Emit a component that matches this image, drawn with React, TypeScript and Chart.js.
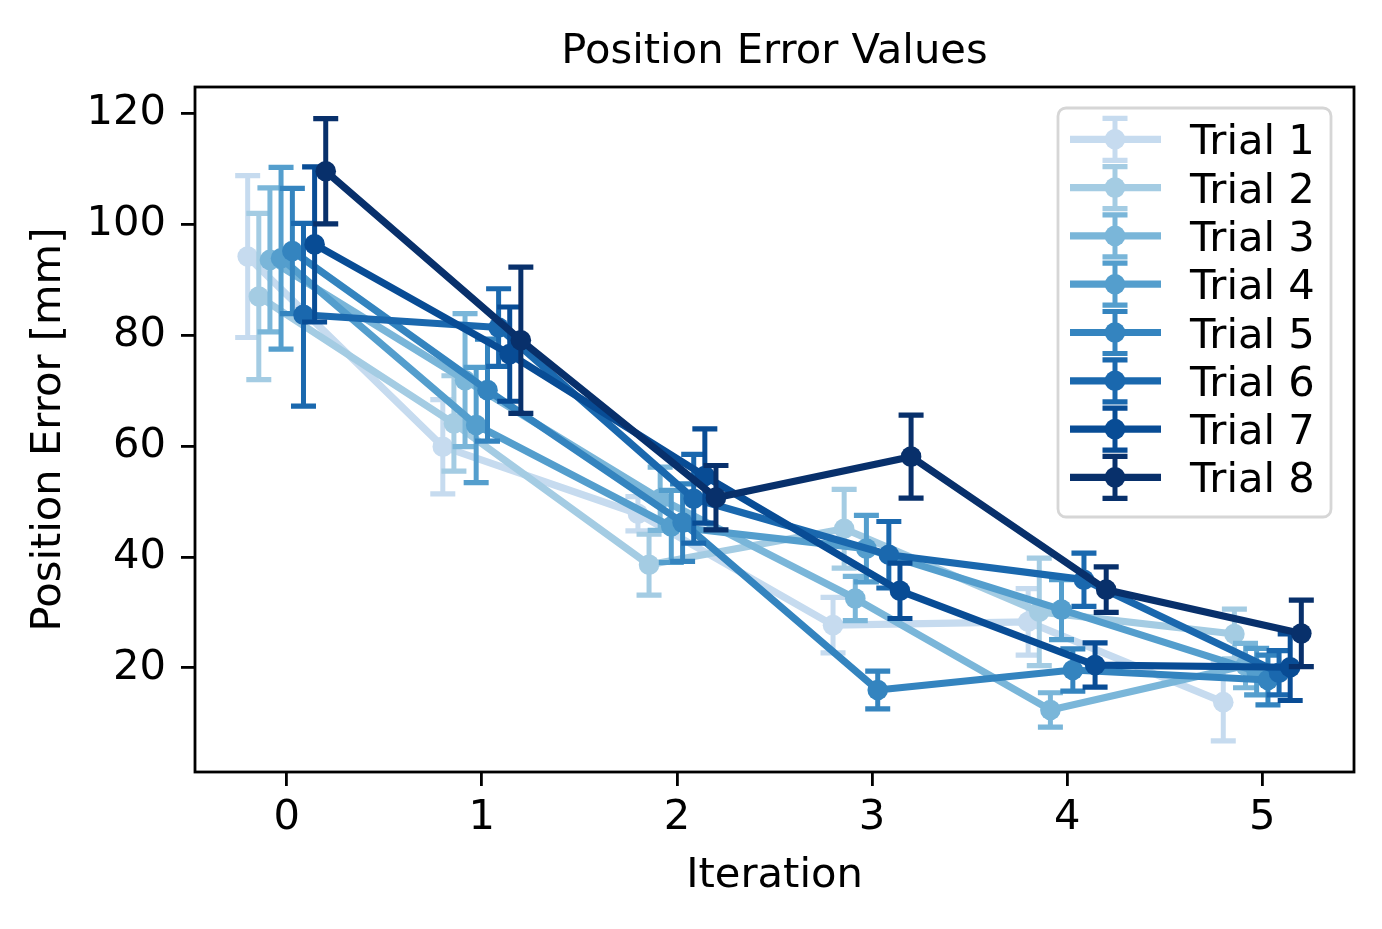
import React, { useEffect, useRef } from "react";
import { Chart, registerables } from "chart.js";

Chart.register(...registerables);

// ---------- data ----------
const iterations = [0, 1, 2, 3, 4, 5];
const trialLabels = ["Trial 1", "Trial 2", "Trial 3", "Trial 4", "Trial 5", "Trial 6", "Trial 7", "Trial 8"];
const trialOffsets = [-0.2, -0.143, -0.086, -0.029, 0.029, 0.086, 0.143, 0.2];

const trial1Mean = [94.2, 59.9, 47.8, 27.7, 28.3, 13.8];
const trial1Err = [14.6, 8.5, 3.1, 5.0, 6.0, 7.0];
const trial2Mean = [87.0, 64.1, 38.6, 45.1, 30.1, 26.1];
const trial2Err = [15.0, 8.6, 5.5, 7.1, 9.7, 4.5];
const trial3Mean = [93.6, 71.9, 50.5, 32.5, 12.4, 20.4];
const trial3Err = [13.0, 12.0, 5.7, 4.0, 3.1, 4.0];
const trial4Mean = [93.9, 63.8, 45.5, 41.5, 30.5, 19.3];
const trial4Err = [16.4, 10.4, 6.5, 6.0, 5.4, 4.2];
const trial5Mean = [95.2, 70.1, 46.2, 16.0, 19.6, 17.8];
const trial5Err = [11.3, 9.2, 7.0, 3.4, 3.8, 4.5];
const trial6Mean = [83.7, 81.4, 50.5, 40.4, 35.9, 19.1];
const trial6Err = [16.5, 7.0, 8.0, 6.0, 4.8, 4.0];
const trial7Mean = [96.4, 76.6, 54.6, 33.9, 20.5, 20.1];
const trial7Err = [14.0, 8.5, 8.5, 5.0, 4.0, 6.0];
const trial8Mean = [109.6, 79.1, 50.7, 58.1, 34.1, 26.2];
const trial8Err = [9.5, 13.2, 5.8, 7.5, 4.1, 6.0];

const trialMeans = [trial1Mean, trial2Mean, trial3Mean, trial4Mean, trial5Mean, trial6Mean, trial7Mean, trial8Mean];
const trialErrs = [trial1Err, trial2Err, trial3Err, trial4Err, trial5Err, trial6Err, trial7Err, trial8Err];

const trialColors = ["#c6dbef", "#a4cce3", "#7ab6d9", "#549ecd", "#3484bf", "#1a68ae", "#084c95", "#08306b"];

const xTicks = [0, 1, 2, 3, 4, 5];
const yTicks = [20, 40, 60, 80, 100, 120];

const chartTitle = "Position Error Values";
const xAxisTitle = "Iteration";
const yAxisTitle = "Position Error [mm]";

// ---------- styling ----------
const FONT_FAMILY = '"DejaVu Sans", "Liberation Sans", sans-serif';
const FONT_SIZE = 41.67;
const LINE_W = 7.2;
const LEGEND_LINE_W = 7.2;
const BAR_W = 5;
const CAP_W = 5.2;
const CAP_HALF = 12.5;
const MARKER_R = 10.3;
const AXIS_W = 2.8;

const errorBarPlugin = {
  id: "errorBars",
  beforeDatasetDraw(chart: any, args: any) {
    const i = args.index;
    const xs = chart.scales.x;
    const ys = chart.scales.y;
    const ctx = chart.ctx;
    const area = chart.chartArea;
    ctx.save();
    ctx.beginPath();
    ctx.rect(area.left, area.top, area.right - area.left, area.bottom - area.top);
    ctx.clip();
    ctx.strokeStyle = trialColors[i];
    iterations.forEach((it, j) => {
      const px = xs.getPixelForValue(it + trialOffsets[i]);
      const pTop = ys.getPixelForValue(trialMeans[i][j] + trialErrs[i][j]);
      const pBot = ys.getPixelForValue(trialMeans[i][j] - trialErrs[i][j]);
      ctx.lineWidth = BAR_W;
      ctx.lineCap = "butt";
      ctx.beginPath();
      ctx.moveTo(px, pTop);
      ctx.lineTo(px, pBot);
      ctx.stroke();
      ctx.lineWidth = CAP_W;
      ctx.beginPath();
      ctx.moveTo(px - CAP_HALF, pTop);
      ctx.lineTo(px + CAP_HALF, pTop);
      ctx.moveTo(px - CAP_HALF, pBot);
      ctx.lineTo(px + CAP_HALF, pBot);
      ctx.stroke();
    });
    ctx.restore();
  },
};

const decorPlugin = {
  id: "decor",
  afterDatasetsDraw(chart: any) {
    const ctx = chart.ctx;
    const a = chart.chartArea;
    ctx.save();
    ctx.strokeStyle = "#000";
    ctx.lineWidth = AXIS_W;
    ctx.lineJoin = "miter";
    ctx.strokeRect(a.left, a.top, a.right - a.left, a.bottom - a.top);
    ctx.restore();
  },
  afterDraw(chart: any) {
    const ctx = chart.ctx;
    const a = chart.chartArea;
    ctx.save();
    ctx.fillStyle = "#000";
    ctx.font = `${FONT_SIZE}px ${FONT_FAMILY}`;
    ctx.textAlign = "center";
    ctx.textBaseline = "alphabetic";
    ctx.fillText(chartTitle, (a.left + a.right) / 2, 63);
    ctx.fillText(xAxisTitle, (a.left + a.right) / 2, 887);
    ctx.save();
    ctx.translate(60, (a.top + a.bottom) / 2);
    ctx.rotate(-Math.PI / 2);
    ctx.fillText(yAxisTitle, 0, 0);
    ctx.restore();

    // legend
    const lx = 1058, ly = 108, lw = 273, lh = 409, r = 8;
    ctx.beginPath();
    ctx.moveTo(lx + r, ly);
    ctx.lineTo(lx + lw - r, ly);
    ctx.arcTo(lx + lw, ly, lx + lw, ly + r, r);
    ctx.lineTo(lx + lw, ly + lh - r);
    ctx.arcTo(lx + lw, ly + lh, lx + lw - r, ly + lh, r);
    ctx.lineTo(lx + r, ly + lh);
    ctx.arcTo(lx, ly + lh, lx, ly + lh - r, r);
    ctx.lineTo(lx, ly + r);
    ctx.arcTo(lx, ly, lx + r, ly, r);
    ctx.closePath();
    ctx.fillStyle = "rgba(255,255,255,0.8)";
    ctx.fill();
    ctx.strokeStyle = "#d6d6d6";
    ctx.lineWidth = 2.8;
    ctx.stroke();

    const hx1 = 1070, hx2 = 1161, hc = 1115;
    trialLabels.forEach((label, k) => {
      const cy = 139.3 + k * 48.3;
      const col = trialColors[k];
      ctx.strokeStyle = col;
      ctx.lineCap = "butt";
      ctx.lineWidth = LEGEND_LINE_W;
      ctx.beginPath();
      ctx.moveTo(hx1, cy);
      ctx.lineTo(hx2, cy);
      ctx.stroke();
      ctx.lineWidth = BAR_W;
      ctx.beginPath();
      ctx.moveTo(hc, cy - 21);
      ctx.lineTo(hc, cy + 21);
      ctx.stroke();
      ctx.lineWidth = CAP_W;
      ctx.beginPath();
      ctx.moveTo(hc - CAP_HALF, cy - 21);
      ctx.lineTo(hc + CAP_HALF, cy - 21);
      ctx.moveTo(hc - CAP_HALF, cy + 21);
      ctx.lineTo(hc + CAP_HALF, cy + 21);
      ctx.stroke();
      ctx.fillStyle = col;
      ctx.beginPath();
      ctx.arc(hc, cy, MARKER_R, 0, Math.PI * 2);
      ctx.fill();
      ctx.fillStyle = "#000";
      ctx.textAlign = "left";
      ctx.fillText(label, 1190, cy + 15);
    });
    ctx.restore();
  },
};

export default function App() {
  const canvasRef = useRef<HTMLCanvasElement | null>(null);

  useEffect(() => {
    const canvas = canvasRef.current;
    if (!canvas) return;
    const datasets = trialLabels.map((label, i) => ({
      label,
      data: iterations.map((it, j) => ({ x: it + trialOffsets[i], y: trialMeans[i][j] })),
      borderColor: trialColors[i],
      backgroundColor: trialColors[i],
      pointBackgroundColor: trialColors[i],
      pointBorderColor: trialColors[i],
      pointBorderWidth: 0,
      pointRadius: MARKER_R,
      pointHoverRadius: MARKER_R,
      borderWidth: LINE_W,
      borderJoinStyle: "round" as const,
      tension: 0,
      fill: false,
      order: trialLabels.length - i,
    }));

    const tickFont = { family: FONT_FAMILY, size: FONT_SIZE };
    const chart = new Chart(canvas, {
      type: "line",
      data: { datasets },
      options: {
        responsive: false,
        animation: false,
        devicePixelRatio: 1,
        layout: { padding: { left: 0, right: 28, top: 87, bottom: 0 } },
        elements: { line: { borderWidth: LINE_W } },
        plugins: {
          legend: { display: false },
          title: { display: false },
          tooltip: { enabled: false },
        },
        events: [],
        scales: {
          x: {
            type: "linear",
            position: "bottom",
            min: -0.47,
            max: 5.47,
            afterFit(scale: any) {
              scale.height = 157;
            },
            afterBuildTicks(scale: any) {
              scale.ticks = xTicks.map((v) => ({ value: v }));
            },
            ticks: {
              font: tickFont,
              color: "#000",
              padding: 7,
              autoSkip: false,
              maxRotation: 0,
              minRotation: 0,
            },
            grid: {
              display: true,
              drawOnChartArea: false,
              drawTicks: true,
              tickLength: 14,
              color: "#000",
              lineWidth: AXIS_W,
            },
            border: { display: false },
          },
          y: {
            type: "linear",
            position: "left",
            min: 1.2,
            max: 124.8,
            afterFit(scale: any) {
              scale.width = 195;
            },
            afterBuildTicks(scale: any) {
              scale.ticks = yTicks.map((v) => ({ value: v }));
            },
            ticks: {
              font: tickFont,
              color: "#000",
              padding: 15,
              autoSkip: false,
            },
            grid: {
              display: true,
              drawOnChartArea: false,
              drawTicks: true,
              tickLength: 14,
              color: "#000",
              lineWidth: AXIS_W,
            },
            border: { display: false },
          },
        },
      } as any,
      plugins: [errorBarPlugin, decorPlugin],
    });
    return () => {
      chart.destroy();
    };
  }, []);

  return (
    <div style={{ position: "fixed", left: 0, top: 0, width: 1382, height: 929, background: "#fff" }}>
      <canvas ref={canvasRef} width={1382} height={929} style={{ width: 1382, height: 929, display: "block" }} />
    </div>
  );
}
